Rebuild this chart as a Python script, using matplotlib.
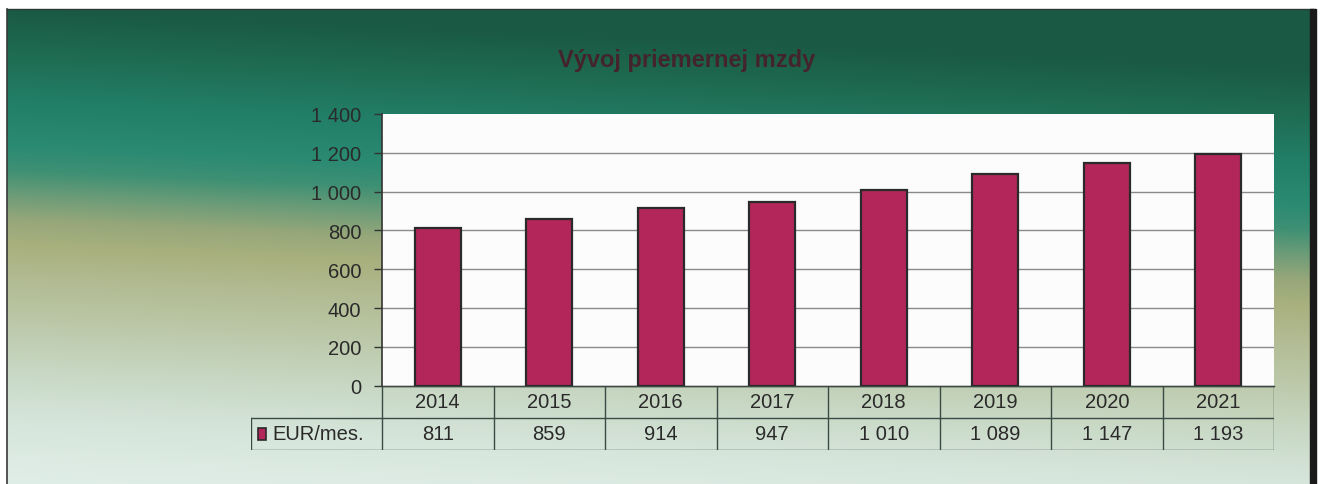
import numpy as np
import matplotlib
matplotlib.use("Agg")
import matplotlib.pyplot as plt
from matplotlib.patches import Rectangle
from matplotlib.colors import to_rgb

plt.rcParams['font.family'] = ['Liberation Sans', 'DejaVu Sans']

# ---- data ----
years = ["2014", "2015", "2016", "2017", "2018", "2019", "2020", "2021"]
wages = [811, 859, 914, 947, 1010, 1089, 1147, 1193]
series_name = "EUR/mes."
title = "Vývoj priemernej mzdy"
y_ticks = [0, 200, 400, 600, 800, 1000, 1200, 1400]


def fmt(v):
    return f"{v:,}".replace(",", " ")


W, H = 1320, 485
fig = plt.figure(figsize=(W / 100, H / 100), dpi=100)
fig.patch.set_facecolor("white")

# ---- gradient background ----
bg = fig.add_axes([0, 0, 1, 1])
bg.set_xlim(0, W)
bg.set_ylim(H, 0)
bg.axis("off")

stops_y = [10, 50, 100, 145, 170, 195, 220, 245, 280, 325, 375, 425, 485]
stops_c = ["#1a5a44", "#1e6a50", "#227e66", "#2a8a72", "#3e9074", "#6c9c78",
           "#96a77a", "#a8b07e", "#b2bb92", "#bcc9aa", "#c9d9c6", "#d7e6dc", "#e0eee8"]
cols = np.array([to_rgb(c) for c in stops_c])
x0, x1, y0, y1 = 7, 1313, 10, 485
xs = np.arange(x0, x1)
ys = np.arange(y0, y1)
XX, YY = np.meshgrid(xs, ys)
T = YY - 60 * (XX - x0) / (x1 - x0)
img = np.zeros(XX.shape + (3,))
for k in range(3):
    img[..., k] = np.interp(T, stops_y, cols[:, k])
bg.imshow(img, extent=(x0, x1, y1, y0), aspect="auto", interpolation="bilinear", zorder=0)
bg.plot([x0, x0], [y0, y1], color="#3a3a3a", lw=1.2, zorder=1)
bg.plot([x0, x1], [y0, y0], color="#2a3a34", lw=1.0, zorder=1)
bg.add_patch(Rectangle((1310, y0), 6, y1 - y0, color="#1a1a1a", zorder=1))

fig.text(687 / W, 1 - 60 / H, title, ha="center", va="center",
         fontsize=17, fontweight="bold", color="#44242c")

# ---- main plot ----
L, R, T_, B = 382, 1274, 115, 386.7
ax = fig.add_axes([L / W, 1 - B / H, (R - L) / W, (B - T_) / H])
ax.set_facecolor("#fcfcfc")
x = np.arange(len(years))
ax.bar(x, wages, width=0.41, color="#b3265a", edgecolor="#2a2a2a", linewidth=1.6, zorder=3)
ax.set_xlim(-0.5, len(years) - 0.5)
ax.set_ylim(0, 1400)
ax.set_yticks(y_ticks)
ax.set_yticklabels([fmt(v) for v in y_ticks])
ax.tick_params(axis="y", length=6, width=1, color="#333333", pad=9,
               labelsize=14.5, labelcolor="#2a2a2a")
ax.set_xticks([])
ax.yaxis.grid(True, color="#8a8a8a", linewidth=1.0, zorder=1)
ax.set_axisbelow(True)
gls = ax.get_ygridlines()
gls[-1].set_visible(False)
for s in ["top", "right"]:
    ax.spines[s].set_visible(False)
ax.spines["left"].set_color("#333333")
ax.spines["left"].set_linewidth(1.2)
ax.spines["bottom"].set_color("#333333")
ax.spines["bottom"].set_linewidth(1.0)

# ---- data table ----
TL, TB = 251, 451
unit = (R - L) / len(years)
leg_units = (L - TL) / unit
tax = fig.add_axes([TL / W, 1 - TB / H, (R - TL) / W, (TB - B) / H])
tax.set_xlim(-0.5 - leg_units, len(years) - 0.5)
tax.set_ylim(0, 2)
tax.axis("off")
lc = "#3a4a44"
lw = 1.0
n = len(years)
tax.plot([-0.5, n - 0.5], [2, 2], color=lc, lw=lw)
tax.plot([-0.5 - leg_units, n - 0.5], [1, 1], color=lc, lw=lw)
tax.plot([-0.5 - leg_units, n - 0.5], [0, 0], color=lc, lw=lw)
tax.plot([-0.5 - leg_units, -0.5 - leg_units], [0, 1], color=lc, lw=lw)
for k in range(n + 1):
    tax.plot([k - 0.5, k - 0.5], [0, 2], color=lc, lw=lw)
for i, (yr, v) in enumerate(zip(years, wages)):
    tax.text(i, 1.5, yr, ha="center", va="center", fontsize=14.5, color="#2a2a2a")
    tax.text(i, 0.5, fmt(v), ha="center", va="center", fontsize=14.5, color="#2a2a2a")
# legend key
kx = -0.5 - leg_units + 7 / unit
tax.add_patch(Rectangle((kx, 0.32), 8 / unit, 0.36, facecolor="#b3265a",
                        edgecolor="#2a2a2a", linewidth=1.2))
tax.text(kx + 14 / unit, 0.5, series_name, ha="left", va="center",
         fontsize=14.5, color="#2a2a2a")

fig.savefig("out.png", dpi=100)
